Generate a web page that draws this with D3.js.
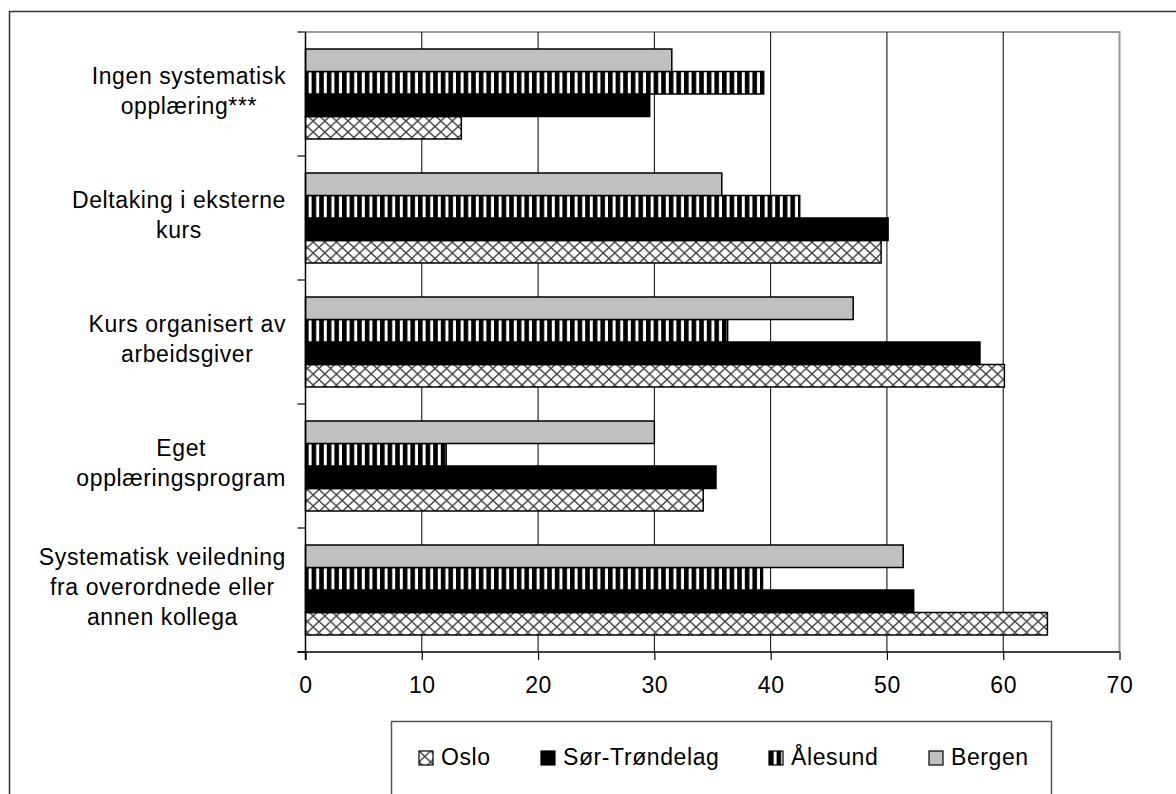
<!DOCTYPE html>
<html>
<head>
<meta charset="utf-8">
<script src="https://cdn.jsdelivr.net/npm/d3@7"></script>
<style>
  body { margin: 0; background: #fff; }
  svg text { font-family: "Liberation Sans", Arial, sans-serif; font-size: 23px; letter-spacing: 0.6px; fill: #000; }
</style>
</head>
<body>
<svg id="chart" width="1176" height="794"></svg>
<script>
// data
var categories = [
  "Ingen systematisk opplæring***",
  "Deltaking i eksterne kurs",
  "Kurs organisert av arbeidsgiver",
  "Eget opplæringsprogram",
  "Systematisk veiledning fra overordnede eller annen kollega"
];
var seriesNames = ["Oslo", "Sør-Trøndelag", "Ålesund", "Bergen"];
var osloValues = [13.4, 49.5, 60.1, 34.2, 63.8];
var sorTrondelagValues = [29.6, 50.1, 58.0, 35.3, 52.3];
var alesundValues = [39.4, 42.5, 36.3, 12.1, 39.3];
var bergenValues = [31.5, 35.8, 47.1, 30.0, 51.4];
var xTicks = [0, 10, 20, 30, 40, 50, 60, 70];

var seriesValues = [osloValues, sorTrondelagValues, alesundValues, bergenValues];
var fills = ["url(#cross)", "#000", "url(#stripes)", "#c0c0c0"];

var plot = {left: 305.5, right: 1119.5, top: 32, bottom: 652};

var svg = d3.select("#chart");

// patterns
var defs = svg.append("defs");
var cross = defs.append("pattern")
  .attr("id", "cross").attr("patternUnits", "userSpaceOnUse")
  .attr("width", 11.6).attr("height", 11);
cross.append("rect").attr("width", 11.6).attr("height", 11).attr("fill", "#fff");
cross.append("path").attr("d", "M0,0L11.6,11M11.6,0L0,11")
  .attr("stroke", "#444").attr("stroke-width", 1.4).attr("fill", "none");

var stripes = defs.append("pattern")
  .attr("id", "stripes").attr("patternUnits", "userSpaceOnUse")
  .attr("width", 7.6).attr("height", 10);
stripes.append("rect").attr("width", 7.6).attr("height", 10).attr("fill", "#fff");
stripes.append("rect").attr("width", 4.6).attr("height", 10).attr("fill", "#000");

// outer frame (cut off at right/bottom)
svg.append("path")
  .attr("d", "M9.5,800V11.5H1180")
  .attr("fill", "none").attr("stroke", "#333").attr("stroke-width", 1.5);

// scales
var x = d3.scaleLinear().domain([0, 70]).range([plot.left, plot.right]);
var y = d3.scaleBand().domain(categories).range([plot.top, plot.bottom]);
var order = seriesNames.slice().reverse(); // Bergen on top
var yInner = d3.scaleBand().domain(order).range([0, y.bandwidth()]).paddingOuter(0.756);

// plot area border (gray top/right)
svg.append("path")
  .attr("d", "M" + plot.left + "," + plot.top + "H" + plot.right + "V" + plot.bottom)
  .attr("fill", "none").attr("stroke", "#999").attr("stroke-width", 2);

// gridlines
svg.append("g").selectAll("line")
  .data(xTicks.filter(function(d) { return d > 0 && d < 70; }))
  .enter().append("line")
  .attr("x1", function(d) { return x(d); }).attr("x2", function(d) { return x(d); })
  .attr("y1", plot.top).attr("y2", plot.bottom)
  .attr("stroke", "#000").attr("stroke-width", 1);

// bars
seriesNames.forEach(function(name, s) {
  svg.append("g").selectAll("rect")
    .data(seriesValues[s])
    .enter().append("rect")
    .attr("x", x(0))
    .attr("y", function(d, i) { return y(categories[i]) + yInner(name); })
    .attr("width", function(d) { return x(d) - x(0); })
    .attr("height", yInner.bandwidth())
    .attr("fill", fills[s])
    .attr("stroke", "#000").attr("stroke-width", 1.5);
});

// x axis
var xAxis = svg.append("g")
  .attr("transform", "translate(0," + plot.bottom + ")")
  .call(d3.axisBottom(x).tickValues(xTicks).tickSize(8).tickPadding(12).tickSizeOuter(0));
xAxis.select(".domain").attr("stroke", "#000").attr("stroke-width", 1.5)
  .attr("d", "M" + (plot.left - 8) + ",0H" + plot.right);
xAxis.selectAll(".tick line").attr("stroke", "#000").attr("stroke-width", 1.2);
xAxis.selectAll(".tick text").attr("font-size", null).attr("font-family", null).attr("dy", "0.92em");

// y axis
var yTicks = y.domain().map(function(d) { return y(d); }).concat([plot.bottom]);
svg.append("line")
  .attr("x1", plot.left).attr("x2", plot.left)
  .attr("y1", plot.top).attr("y2", plot.bottom + 8)
  .attr("stroke", "#000").attr("stroke-width", 1.5);
svg.append("g").selectAll("line")
  .data(yTicks).enter().append("line")
  .attr("x1", plot.left - 8).attr("x2", plot.left)
  .attr("y1", function(d) { return d; }).attr("y2", function(d) { return d; })
  .attr("stroke", "#000").attr("stroke-width", 1.2);

// category labels: wrapped, block right-aligned, lines centred in the block
var labelRight = 286, maxWidth = 256, lineHeight = 30;
categories.forEach(function(cat) {
  var g = svg.append("g");
  var words = cat.split(" "), lines = [], line = [];
  var probe = g.append("text");
  words.forEach(function(w) {
    line.push(w);
    probe.text(line.join(" "));
    if (probe.node().getComputedTextLength() > maxWidth && line.length > 1) {
      line.pop();
      lines.push(line.join(" "));
      line = [w];
    }
  });
  lines.push(line.join(" "));
  var widths = lines.map(function(l) { probe.text(l); return probe.node().getComputedTextLength(); });
  probe.remove();
  var blockW = d3.max(widths);
  var cy = y(cat) + y.bandwidth() / 2;
  g.selectAll("text").data(lines).enter().append("text")
    .attr("text-anchor", "middle")
    .attr("x", labelRight - blockW / 2)
    .attr("y", function(d, i) { return cy + 5 + (i - (lines.length - 1) / 2) * lineHeight; })
    .text(function(d) { return d; });
});

// legend
svg.append("rect")
  .attr("x", 391.5).attr("y", 721.5).attr("width", 660).attr("height", 100)
  .attr("fill", "#fff").attr("stroke", "#555").attr("stroke-width", 1.5);
var legendX = [419, 541, 769, 929];
var legend = svg.append("g").selectAll("g")
  .data(seriesNames).enter().append("g")
  .attr("transform", function(d, i) { return "translate(" + legendX[i] + ",751)"; });
legend.append("rect")
  .attr("width", 14).attr("height", 14)
  .attr("fill", function(d, i) { return fills[i]; })
  .attr("stroke", "#000").attr("stroke-width", 1.2);
legend.append("text")
  .attr("x", 22).attr("y", 14)
  .text(function(d) { return d; });
</script>
</body>
</html>
